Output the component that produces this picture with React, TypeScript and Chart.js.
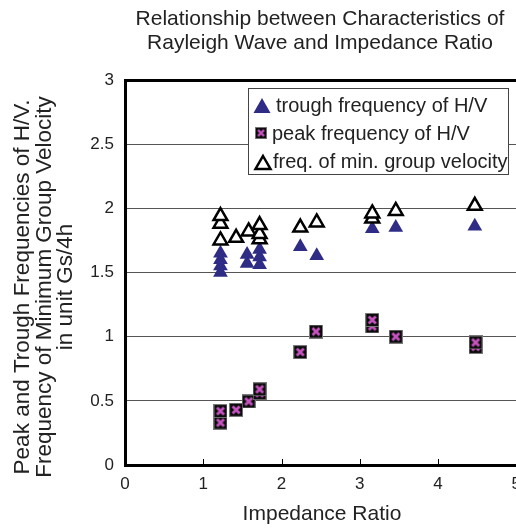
import React, { useEffect, useRef } from "react";
import { Chart, registerables } from "chart.js";

Chart.register(...registerables);

const titleLines = ["Relationship between Characteristics of", "Rayleigh Wave and Impedance Ratio"];
const xAxisTitle = "Impedance Ratio";
const yAxisTitleLines = [
  "Peak and Trough Frequencies of H/V.",
  "Frequency of Minimum Group Velocity",
  "in unit Gs/4h",
];
const seriesLabels = ["trough frequency of H/V", "peak frequency of H/V", "freq. of min. group velocity"];

const troughX = [1.22, 1.22, 1.22, 1.22, 1.56, 1.56, 1.72, 1.72, 1.72, 2.24, 2.45, 3.16, 3.46, 4.47];
const troughY = [1.5, 1.55, 1.6, 1.65, 1.57, 1.64, 1.56, 1.62, 1.68, 1.7, 1.63, 1.84, 1.85, 1.86];

const peakX = [1.22, 1.22, 1.42, 1.58, 1.72, 1.72, 2.24, 2.44, 3.16, 3.16, 3.46, 4.48, 4.48];
const peakY = [0.33, 0.42, 0.43, 0.495, 0.56, 0.59, 0.88, 1.04, 1.08, 1.13, 1.0, 0.92, 0.955];

const groupX = [1.22, 1.22, 1.22, 1.42, 1.58, 1.72, 1.72, 1.72, 2.24, 2.45, 3.16, 3.16, 3.46, 4.47];
const groupY = [1.75, 1.88, 1.94, 1.77, 1.82, 1.76, 1.8, 1.87, 1.85, 1.89, 1.92, 1.96, 1.98, 2.02];

const xMin = 0, xMax = 5, xStep = 1;
const yMin = 0, yMax = 3, yStep = 0.5;

const FONT = '"Liberation Sans", Arial, Helvetica, sans-serif';
const TROUGH_COLOR = "#2e2c84";
const PEAK_X_COLOR = "#c653c0";
const TEXT_COLOR = "#222";

function makePeakMarker(size: number): HTMLCanvasElement {
  const c = document.createElement("canvas");
  c.width = size;
  c.height = size;
  const g = c.getContext("2d")!;
  g.fillStyle = "#7a7a7a";
  g.fillRect(0, 0, size, size);
  g.fillStyle = "#0c0c0c";
  g.fillRect(1, 1, size - 2, size - 2);
  g.strokeStyle = PEAK_X_COLOR;
  g.lineWidth = 2.8;
  g.lineCap = "butt";
  const m = size * 0.25;
  g.beginPath();
  g.moveTo(m, m);
  g.lineTo(size - m, size - m);
  g.moveTo(size - m, m);
  g.lineTo(m, size - m);
  g.stroke();
  return c;
}

function tri(ctx: CanvasRenderingContext2D, cx: number, cy: number, w: number, h: number) {
  ctx.beginPath();
  ctx.moveTo(cx, cy - h / 2);
  ctx.lineTo(cx + w / 2, cy + h / 2);
  ctx.lineTo(cx - w / 2, cy + h / 2);
  ctx.closePath();
}

export default function App() {
  const ref = useRef<HTMLCanvasElement | null>(null);

  useEffect(() => {
    if (!ref.current) return;
    const peakMarker = makePeakMarker(14);

    const decor = {
      id: "decor",
      afterDraw(chart: any) {
        const { ctx, chartArea, scales } = chart;
        const xs = scales.x;
        ctx.save();
        ctx.strokeStyle = "#000";
        ctx.lineWidth = 1;
        for (let v = xMin + xStep; v < xMax; v += xStep) {
          const px = Math.round(xs.getPixelForValue(v)) + 0.5;
          ctx.beginPath();
          ctx.moveTo(px, chartArea.bottom);
          ctx.lineTo(px, chartArea.bottom - 6);
          ctx.stroke();
        }
        ctx.fillStyle = TEXT_COLOR;
        ctx.font = `21px ${FONT}`;
        ctx.textAlign = "center";
        ctx.textBaseline = "alphabetic";
        const tcx = 320;
        ctx.fillText(titleLines[0], tcx, 25);
        ctx.fillText(titleLines[1], tcx, 49);
        ctx.font = `21px ${FONT}`;
        ctx.fillText(xAxisTitle, 322, 520);
        ctx.save();
        ctx.translate(0, 287);
        ctx.rotate(-Math.PI / 2);
        ctx.font = `22.5px ${FONT}`;
        ctx.textBaseline = "alphabetic";
        const ybs = [29, 50.5, 72];
        yAxisTitleLines.forEach((t, i) => ctx.fillText(t, 0, ybs[i]));
        ctx.restore();
        const bx = 248.5, by = 88.5, bw = 260, bh = 86;
        ctx.fillStyle = "#fff";
        ctx.fillRect(bx, by, bw, bh);
        ctx.strokeStyle = "#444";
        ctx.lineWidth = 1;
        ctx.strokeRect(bx, by, bw, bh);
        ctx.fillStyle = TROUGH_COLOR;
        tri(ctx, 262, 105.5, 17, 15);
        ctx.fill();
        ctx.drawImage(peakMarker, 255, 127, 12, 12);
        ctx.fillStyle = "#fff";
        ctx.strokeStyle = "#000";
        ctx.lineWidth = 2.5;
        tri(ctx, 263, 162.5, 15, 13);
        ctx.fill();
        ctx.stroke();
        ctx.fillStyle = TEXT_COLOR;
        ctx.font = `20px ${FONT}`;
        ctx.textAlign = "left";
        ctx.fillText(seriesLabels[0], 276, 112);
        ctx.fillText(seriesLabels[1], 272, 140);
        ctx.fillText(seriesLabels[2], 273, 168);
        ctx.restore();
      },
    };

    const chart = new Chart(ref.current, {
      type: "scatter",
      data: {
        datasets: [
          {
            label: seriesLabels[2],
            data: groupX.map((x, i) => ({ x, y: groupY[i] })),
            pointStyle: "triangle",
            pointRadius: 8,
            backgroundColor: "#fff",
            borderColor: "#000",
            borderWidth: 2.5,
            order: 1,
          },
          {
            label: seriesLabels[0],
            data: troughX.map((x, i) => ({ x, y: troughY[i] })),
            pointStyle: "triangle",
            pointRadius: 8.5,
            backgroundColor: TROUGH_COLOR,
            borderColor: TROUGH_COLOR,
            borderWidth: 0,
            order: 2,
          },
          {
            label: seriesLabels[1],
            data: peakX.map((x, i) => ({ x, y: peakY[i] })),
            pointStyle: peakMarker as any,
            pointRadius: 7,
            order: 3,
          },
        ],
      },
      options: {
        responsive: false,
        animation: false,
        events: [],
        layout: { padding: { top: 80, right: 12, bottom: 0, left: 0 } },
        plugins: {
          legend: { display: false },
          tooltip: { enabled: false },
          title: { display: false },
        },
        scales: {
          x: {
            type: "linear",
            min: xMin,
            max: xMax,
            afterFit: (s: any) => {
              s.height = 64;
            },
            ticks: {
              stepSize: xStep,
              padding: 9,
              color: TEXT_COLOR,
              font: { family: FONT, size: 17 },
              callback: (v: any) => String(Number(v)),
            },
            grid: { display: true, drawOnChartArea: false, drawTicks: false },
            border: { display: true, color: "#000", width: 3 },
          },
          y: {
            type: "linear",
            min: yMin,
            max: yMax,
            afterFit: (s: any) => {
              s.width = 125;
            },
            ticks: {
              stepSize: yStep,
              padding: 11,
              color: TEXT_COLOR,
              font: { family: FONT, size: 17 },
              callback: (v: any) => String(Number(v)),
            },
            grid: {
              drawTicks: false,
              color: (c: any) => (c.tick && c.tick.value === yMax ? "#000" : c.tick && c.tick.value === yMin ? "rgba(0,0,0,0)" : "#555"),
              lineWidth: (c: any) => (c.tick && c.tick.value === yMax ? 3 : 1),
            },
            border: { display: true, color: "#000", width: 3 },
          },
        },
      },
      plugins: [decor],
    });
    return () => chart.destroy();
  }, []);

  return (
    <div
      style={{
        position: "fixed",
        left: 0,
        top: 0,
        width: 516,
        height: 529,
        overflow: "hidden",
        background: "#fff",
      }}
    >
      <canvas ref={ref} width={530} height={529} style={{ width: 530, height: 529, display: "block" }} />
    </div>
  );
}
